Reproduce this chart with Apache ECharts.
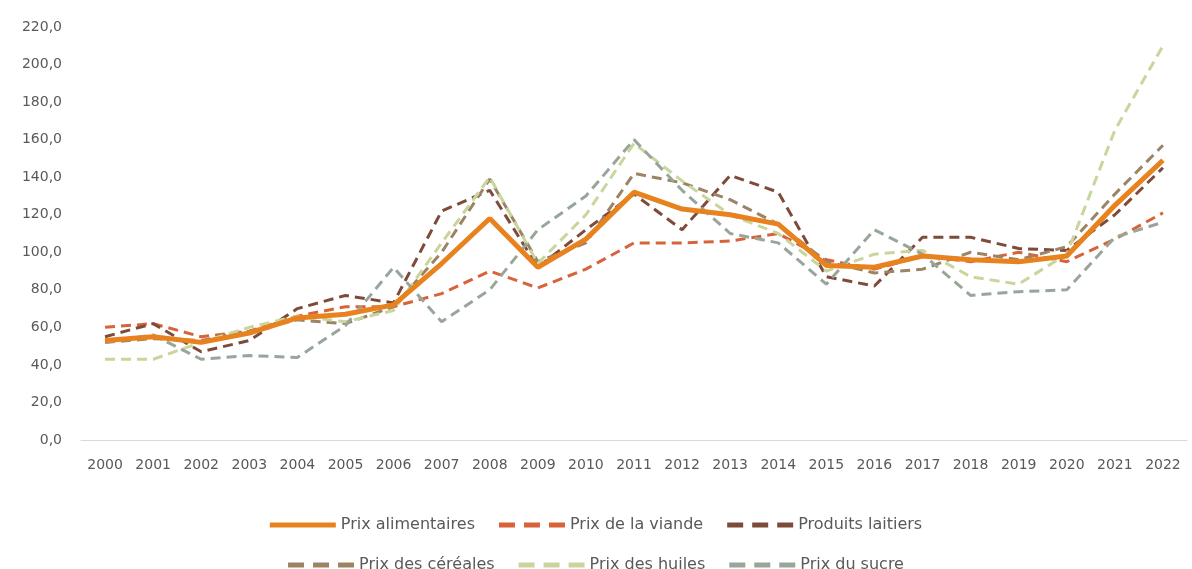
<!DOCTYPE html>
<html><head><meta charset="utf-8">
<script src="https://cdn.jsdelivr.net/npm/echarts@6/dist/echarts.min.js"></script>
<style>html,body{margin:0;padding:0;background:#fff}#c{width:1192px;height:569px}</style>
</head><body><div id="c"></div>
<script>
const years = ["2000","2001","2002","2003","2004","2005","2006","2007","2008","2009","2010","2011","2012","2013","2014","2015","2016","2017","2018","2019","2020","2021","2022"];
const prixAlimentaires = [53, 55, 52, 57, 65, 67, 72, 94, 118, 92, 107, 132, 123, 120, 115, 93, 92, 98, 96, 95, 98, 125, 149];
const prixViande = [60, 62, 55, 58, 66, 71, 71, 78, 90, 81, 91, 105, 105, 106, 110, 96, 91, 98, 95, 100, 95, 107, 121];
const produitsLaitiers = [55, 62, 47, 53, 70, 77, 73, 122, 133, 92, 112, 131, 112, 141, 132, 87, 82, 108, 108, 102, 101, 120, 145];
const prixCereales = [52, 54, 53, 58, 64, 62, 71, 100, 139, 95, 105, 142, 137, 128, 115, 95, 89, 91, 100, 96, 103, 131, 157];
const prixHuiles = [43, 43, 52, 60, 66, 63, 69, 105, 140, 94, 120, 158, 138, 120, 110, 90, 99, 101, 87, 83, 99, 165, 210];
const prixSucre = [52, 56, 43, 45, 44, 61, 92, 63, 80, 112, 130, 160, 133, 110, 105, 83, 112, 99, 77, 79, 80, 108, 116];
const names = ["Prix alimentaires","Prix de la viande","Produits laitiers","Prix des céréales","Prix des huiles","Prix du sucre"];
const colors = ["#E8821E","#D8633A","#7E4B3B","#9B8466","#C9D59B","#98A69A"];
const values = [prixAlimentaires, prixViande, produitsLaitiers, prixCereales, prixHuiles, prixSucre];
const F = "DejaVu Sans";
const SOLID = 'path://M0,0h66v5h-66z';
const DASH = 'path://M0,0h16v5h-16z M25,0h16v5h-16z M50,0h16v5h-16z';
const series = names.map((n,i)=>({
  name:n, type:'line', data: values[i], symbol:'none', smooth:false,
  z: i===0 ? 3 : 2,
  lineStyle: i===0 ? {width:5,color:colors[i]} : {width:3,color:colors[i],type:[10,6]},
  itemStyle:{color:colors[i]}
}));
function legendCfg(list, top){
  return {
    data:list.map(n=>({name:n, icon: n===names[0] ? SOLID : DASH})),
    top:top, left:'center',
    itemWidth:66, itemHeight:5, itemGap:24,
    textStyle:{fontFamily:F,fontSize:16,color:'#595959'}
  };
}
const chart = echarts.init(document.getElementById('c'));
chart.setOption({
  animation:false,
  color: colors,
  grid:{left:81,right:5,top:27,bottom:129,containLabel:false},
  legend:[ legendCfg(names.slice(0,3), 512), legendCfg(names.slice(3), 552) ],
  xAxis:{type:'category', data:years, boundaryGap:true,
    axisLine:{lineStyle:{color:'#D9D9D9',width:1}}, axisTick:{show:false},
    axisLabel:{interval:0, margin:18, fontFamily:F, fontSize:14, color:'#595959'}},
  yAxis:{type:'value', min:0, max:220, interval:20,
    axisLine:{show:false}, axisTick:{show:false}, splitLine:{show:false},
    axisLabel:{margin:19, fontFamily:F, fontSize:14, color:'#595959',
      formatter:v=>v.toFixed(1).replace('.',',')}},
  series: series
});
</script></body></html>
